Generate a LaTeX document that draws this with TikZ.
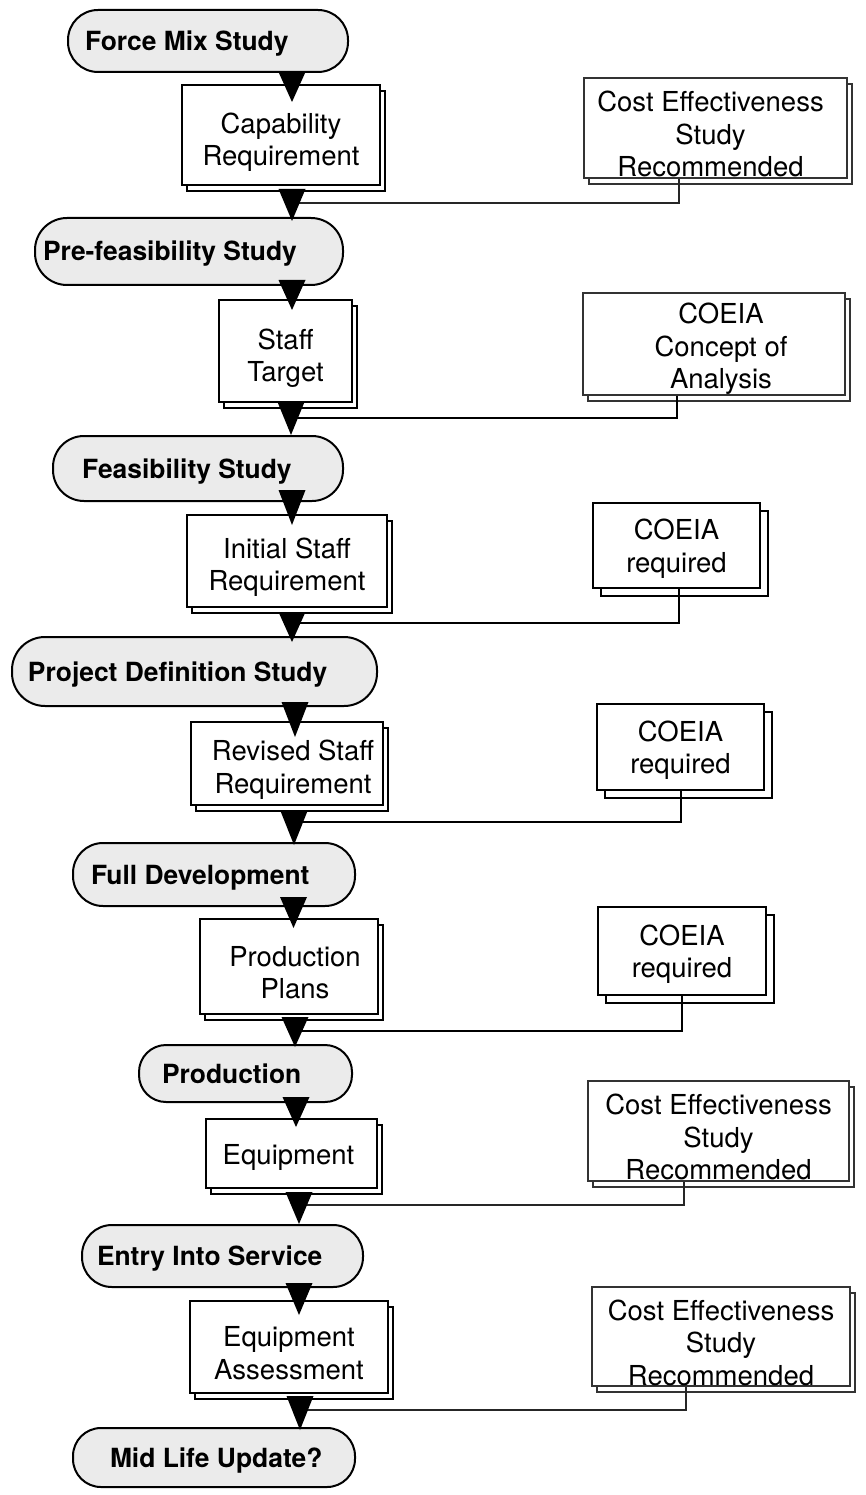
\documentclass[tikz,border=0pt]{standalone}
\usepackage{fontspec}
\setmainfont{TeX Gyre Heros}
\usetikzlibrary{shadows}
\newcommand\dtri[3]{\fill[black] (#1-13.5,#2) -- (#1+13.5,#2) -- (#1,#3) -- cycle;}
\newcommand\stxt[3]{\makebox[#1pt][l]{\hspace*{#2pt}#3}}
\tikzset{
  stage/.style={draw=black, line width=2pt, fill=black!8, inner sep=0pt,
    font=\bfseries\fontsize{26.4}{30}\selectfont, text height=19pt, text depth=0pt},
  btext/.style={inner sep=0pt, align=center, font=\fontsize{27.5}{32.5}\selectfont},
  mainbox/.style={draw=black, line width=1.8pt, fill=white, inner sep=0pt,
    copy shadow={shadow xshift=5pt, shadow yshift=-6pt, draw=black, fill=white, line width=1.8pt}},
  thinbox/.style={draw=black!80, line width=1.1pt, fill=white, inner sep=0pt,
    copy shadow={shadow xshift=5pt, shadow yshift=-6pt, draw=black!80, fill=white, line width=1.1pt}},
  thickbox/.style={draw=black, line width=1.9pt, fill=white, inner sep=0pt,
    copy shadow={shadow xshift=8pt, shadow yshift=-8pt, draw=black, fill=white, line width=1.9pt}},
  thinconn/.style={draw=black!85, line width=1.2pt},
  midconn/.style={draw=black, line width=1.5pt},
  thickconn/.style={draw=black, line width=2pt},
}
\begin{document}
\begin{tikzpicture}[x=1pt,y=-1pt]
\useasboundingbox (0,0) rectangle (865,1495);

% stages
\node[stage, minimum width=280, minimum height=62, rounded corners=30] (s1) at (208,41) {\stxt{280}{17}{Force Mix Study}};
\node[stage, minimum width=308, minimum height=67, rounded corners=32] (s2) at (189,251.5) {\stxt{308}{8}{Pre-feasibility Study}};
\node[stage, minimum width=290, minimum height=65, rounded corners=31] (s3) at (198,468.5) {\stxt{290}{29}{Feasibility Study}};
\node[stage, minimum width=365, minimum height=69, rounded corners=33] (s4) at (194.5,671.5) {\stxt{365}{16}{Project Definition Study}};
\node[stage, minimum width=282, minimum height=63, rounded corners=30] (s5) at (214,874.5) {\stxt{282}{18}{Full Development}};
\node[stage, minimum width=213, minimum height=57, rounded corners=27] (s6) at (245.5,1073.5) {\stxt{213}{23}{Production}};
\node[stage, minimum width=281, minimum height=62, rounded corners=30] (s7) at (222.5,1256) {\stxt{281}{15}{Entry Into Service}};
\node[stage, minimum width=282, minimum height=59, rounded corners=28] (s8) at (214,1457.5) {\stxt{282}{37}{Mid Life Update?}};

% main boxes
\node[mainbox, minimum width=198, minimum height=100] (b1) at (281,135) {};
\node[mainbox, minimum width=133, minimum height=102] (b2) at (285.5,351) {};
\node[mainbox, minimum width=200, minimum height=92] (b3) at (287,561) {};
\node[mainbox, minimum width=192, minimum height=83] (b4) at (287,763.5) {};
\node[mainbox, minimum width=178, minimum height=95] (b5) at (289,966.5) {};
\node[mainbox, minimum width=171, minimum height=69] (b6) at (291.5,1153.5) {};
\node[mainbox, minimum width=198, minimum height=92] (b7) at (289,1347) {};
\node[btext] (b1t) at ([yshift=-7pt]b1.center) {Capability\\Requirement};
\node[btext] (b2t) at ([yshift=-7pt]b2.center) {Staff\\Target};
\node[btext] (b3t) at ([yshift=-6pt]b3.center) {Initial Staff\\Requirement};
\node[btext] (b4t) at ([xshift=6pt,yshift=-6pt]b4.center) {Revised Staff\\Requirement};
\node[btext] (b5t) at ([xshift=6pt,yshift=-6pt]b5.center) {Production\\Plans};
\node[btext] (b6t) at ([xshift=-3pt,yshift=-4pt]b6.center) {Equipment};
\node[btext] (b7t) at ([yshift=-6pt]b7.center) {Equipment\\Assessment};

% right boxes
\node[thinbox, minimum width=263, minimum height=100] (r1) at (715.5,128) {};
\node[thinbox, minimum width=262, minimum height=102] (r2) at (714,344) {};
\node[thickbox, minimum width=167, minimum height=85] (r3) at (676.5,545.5) {};
\node[thickbox, minimum width=167, minimum height=86] (r4) at (680.5,747) {};
\node[thickbox, minimum width=168, minimum height=88] (r5) at (682,951) {};
\node[thinbox, minimum width=261, minimum height=100] (r6) at (718.5,1131) {};
\node[thinbox, minimum width=258, minimum height=99] (r7) at (721,1336.5) {};
\node[btext] (r1t) at ([xshift=-5pt,yshift=-6pt]r1.center) {Cost Effectiveness\\Study\\Recommended};
\node[btext] (r2t) at ([xshift=7pt,yshift=-5pt]r2.center) {COEIA\\Concept of\\Analysis};
\node[btext] (r3t) at ([yshift=-3pt]r3.center) {COEIA\\required};
\node[btext] (r4t) at ([yshift=-3pt]r4.center) {COEIA\\required};
\node[btext] (r5t) at ([yshift=-3pt]r5.center) {COEIA\\required};
\node[btext] (r6t) at ([yshift=-6pt]r6.center) {Cost Effectiveness\\Study\\Recommended};
\node[btext] (r7t) at ([yshift=-6pt]r7.center) {Cost Effectiveness\\Study\\Recommended};

% junction points on the spine
\coordinate (j1) at (292,203);
\coordinate (j2) at (291,418);
\coordinate (j3) at (292,623);
\coordinate (j4) at (294,822);
\coordinate (j5) at (295,1031);
\coordinate (j6) at (299,1205);
\coordinate (j7) at (300,1410);

% connectors from right boxes
\draw[thinconn] (r1.south -| 679,0) |- (j1);
\draw[midconn] (r2.south -| 677,0) |- (j2);
\draw[thickconn] (r3.south -| 679,0) |- (j3);
\draw[thickconn] (r4.south -| 681,0) |- (j4);
\draw[thickconn] (r5.south -| 682,0) |- (j5);
\draw[thinconn] (r6.south -| 684,0) |- (j6);
\draw[thinconn] (r7.south -| 686,0) |- (j7);

% flow arrows (triangles)
\dtri{292}{72}{102}
\dtri{292}{189}{221}
\dtri{292}{280}{310}
\dtri{291}{402}{435}
\dtri{292}{490}{525}
\dtri{292}{612}{642}
\dtri{295}{702}{737}
\dtri{294}{811}{845}
\dtri{293.5}{897}{928}
\dtri{295}{1017}{1047}
\dtri{296}{1097}{1127}
\dtri{299}{1192}{1224}
\dtri{299}{1283}{1315}
\dtri{300}{1396}{1430}
\end{tikzpicture}
\end{document}
